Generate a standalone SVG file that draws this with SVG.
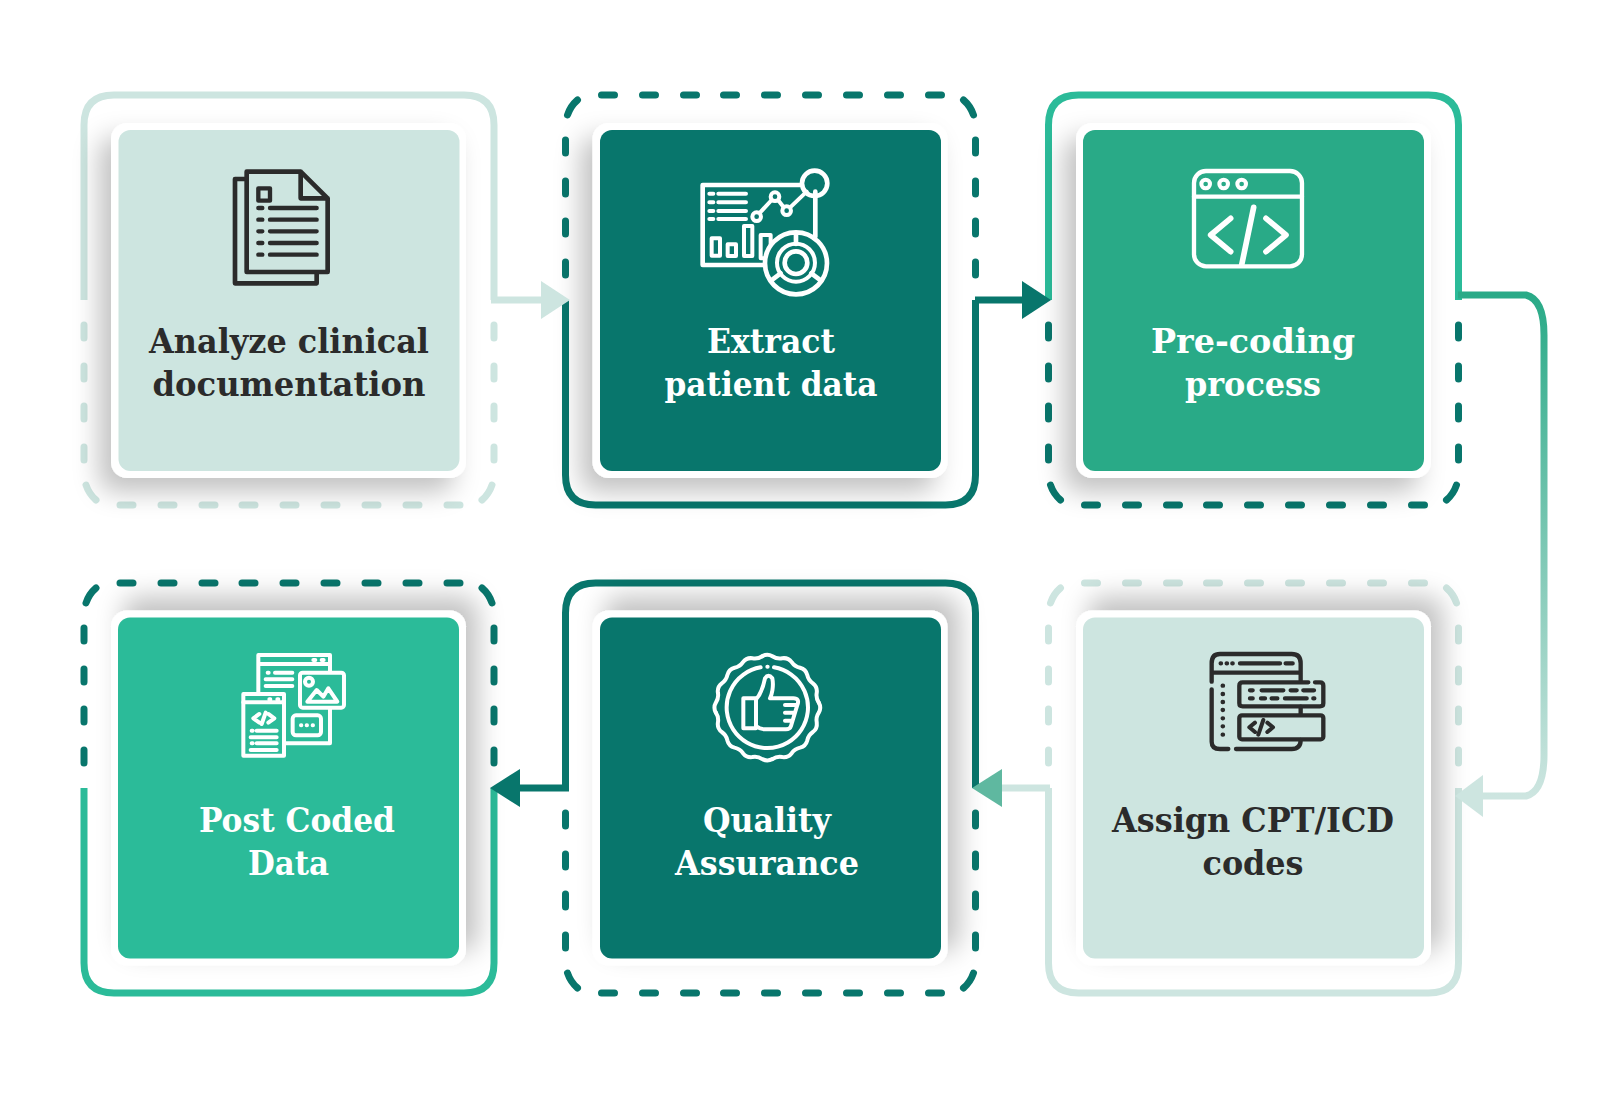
<svg xmlns="http://www.w3.org/2000/svg" width="1624" height="1108" viewBox="0 0 1624 1108">
<style>
.o{fill:none;stroke-width:7;stroke-linecap:butt}
.d{fill:none;stroke-width:7;stroke-linecap:round}
.L{stroke:#cde5e0}.K{stroke:#08766c}.G{stroke:#2bbb99}
.t{font-family:"DejaVu Serif","Liberation Serif",serif;font-weight:700;font-stretch:condensed;font-size:33px;text-anchor:middle}
.tD{fill:#2b2b2b}.tW{fill:#fff}
.i{fill:none;stroke-linecap:round;stroke-linejoin:round}
.iW{stroke:#fff}.iD{stroke:#2b2b2b}
.c{fill:none;stroke-width:7}
</style>
<defs>
<filter id="sA" x="-20%" y="-20%" width="140%" height="140%"><feDropShadow dx="-12" dy="14" stdDeviation="13" flood-color="#000" flood-opacity=".24"/></filter>
<filter id="sB" x="-20%" y="-20%" width="140%" height="140%"><feDropShadow dx="12" dy="-14" stdDeviation="13" flood-color="#000" flood-opacity=".24"/></filter>
<linearGradient id="gr" gradientUnits="userSpaceOnUse" x1="0" y1="295" x2="0" y2="796"><stop offset="0" stop-color="#29aa87"/><stop offset="1" stop-color="#cde5e0"/></linearGradient>
<path id="sU" d="M0 205V30Q0 0 30 0H380Q410 0 410 30V205"/>
<path id="sL" d="M0 205V380Q0 410 30 410H380Q410 410 410 380V205"/>
<path id="dL" d="M0 230v13M0 271v13M0 311v13M0 352v13M410 230v13M410 271v13M410 311v13M410 352v13M2 390Q5 399 12 405M408 390Q405 399 398 405M36 410h13M77 410h13M118 410h13M158 410h13M199 410h13M240 410h13M281 410h13M322 410h13M363 410h13"/>
<path id="dU" d="M0 167v13M0 126v13M0 86v13M0 45v13M410 167v13M410 126v13M410 86v13M410 45v13M2 20Q5 11 12 5M408 20Q405 11 398 5M36 0h13M77 0h13M118 0h13M158 0h13M199 0h13M240 0h13M281 0h13M322 0h13M363 0h13"/>
<path id="sc" d="M154.300 -15.200Q163 0 154.300 15.200Q145.200 28.900 148.300 45Q150.600 62.400 136.700 73.100Q123.100 82.200 119.800 98.300Q115.300 115.300 98.300 119.800Q82.200 123.100 73.100 136.700Q62.400 150.600 45 148.300Q28.900 145.200 15.200 154.300"/>
</defs>
<rect width="1624" height="1108" fill="#fff"/>

<g id="node-analyze">
<use href="#sU" class="o L" x="84" y="95"/><use href="#dL" class="d L" x="84" y="95"/>
<rect x="111" y="123" width="355" height="355" rx="16" fill="#fff" filter="url(#sA)"/>
<rect x="118.500" y="130" width="341" height="341" rx="12" fill="#cde5e0"/>
<g class="i iD" transform="translate(210 150) scale(.3333)" stroke-width="14">
<path d="M110 65H272L353 145V366H110ZM272 65V145H353M110 87H75V400H320V366"/>
<rect x="145" y="115" width="35" height="37" stroke-width="13"/>
<path stroke-width="13" d="M145 174h12M180 174H320M145 209h12M180 209H320M145 244h12M180 244H320M145 279h12M180 279H320M145 314h12M180 314H320"/>
</g>
<text class="t tD" x="289" y="353" textLength="280" lengthAdjust="spacingAndGlyphs">Analyze clinical</text>
<text class="t tD" x="289" y="396" textLength="273" lengthAdjust="spacingAndGlyphs">documentation</text>
</g>

<g id="node-extract">
<use href="#dU" class="d K" x="565.500" y="95"/><use href="#sL" class="o K" x="565.500" y="95"/>
<rect x="592.500" y="123" width="355" height="355" rx="16" fill="#fff" filter="url(#sA)"/>
<rect x="600" y="130" width="341" height="341" rx="12" fill="#08766c"/>
<g class="i iW" transform="translate(660 150) scale(.3333)" stroke-width="14">
<path d="M420 105H128V345H320M466 125V260"/>
<circle cx="464" cy="100" r="38"/>
<path stroke-width="12" d="M148 131h12M175 131H258M148 157h12M175 157H258M148 183h12M175 183H258M148 207h12M175 207H258"/>
<path stroke-width="12" d="M300 188L335 150M356 152L370 170M393 170L440 125"/>
<circle cx="290" cy="200" r="13" stroke-width="12"/><circle cx="345" cy="140" r="13" stroke-width="12"/><circle cx="380" cy="182" r="13" stroke-width="12"/>
<rect x="155" y="265" width="25" height="52" stroke-width="12"/><rect x="203" y="283" width="25" height="35" stroke-width="12"/><rect x="252" y="228" width="25" height="90" stroke-width="12"/><rect x="302" y="255" width="30" height="70" stroke-width="12"/>
<circle cx="408" cy="340" r="93" fill="#08766c"/>
<circle cx="408" cy="338" r="34"/><circle cx="408" cy="338" r="57" stroke-width="12"/>
<path d="M408 250V282M338 388L362 370M478 388L454 370"/>
</g>
<text class="t tW" x="771" y="353" textLength="128" lengthAdjust="spacingAndGlyphs">Extract</text>
<text class="t tW" x="771" y="396" textLength="213" lengthAdjust="spacingAndGlyphs">patient data</text>
</g>

<g id="node-precoding">
<use href="#sU" class="o G" x="1048.500" y="95"/><use href="#dL" class="d K" x="1048.500" y="95"/>
<rect x="1076" y="123" width="355" height="355" rx="16" fill="#fff" filter="url(#sA)"/>
<rect x="1083" y="130" width="341" height="341" rx="12" fill="#29aa87"/>
<g class="i iW" transform="translate(1160 150) scale(.3333)" stroke-width="13">
<rect x="102" y="63" width="324" height="286" rx="36"/>
<path d="M102 140H426"/>
<circle cx="137" cy="102" r="13" stroke-width="12"/><circle cx="191" cy="102" r="13" stroke-width="12"/><circle cx="245" cy="102" r="13" stroke-width="12"/>
<path stroke-width="17" d="M212 205L152 255L212 305M318 205L378 255L318 305M281 172L245 345"/>
</g>
<text class="t tW" x="1253" y="353" textLength="204" lengthAdjust="spacingAndGlyphs">Pre-coding</text>
<text class="t tW" x="1253" y="396" textLength="136" lengthAdjust="spacingAndGlyphs">process</text>
</g>

<g id="node-assign">
<use href="#dU" class="d L" x="1048.500" y="583"/><use href="#sL" class="o L" x="1048.500" y="583"/>
<rect x="1076" y="610.500" width="355" height="355" rx="16" fill="#fff" filter="url(#sB)"/>
<rect x="1083" y="617.500" width="341" height="341" rx="12" fill="#cde5e0"/>
<g class="i iD" transform="translate(1190 640) scale(.3333)" stroke-width="13">
<path d="M65 125V70Q65 42 90 42H305Q332 42 332 70V122M65 98H332M92 70h1M110 70h1M127 70h1M150 70H270M287 70H308M98 137h1M98 162h1M98 186h1M98 210h1M98 235h1M98 259h1M98 284h1M65 148V305Q65 327 90 327H115M138 327H305Q332 327 332 300M332 200V222"/>
<path d="M355 127H158Q148 127 148 137V190Q148 199 158 199H390Q400 199 400 190V137Q400 127 390 127H375M180 151h8M215 151H280M302 151H320M340 151H372M180 175h8M213 175H225M245 175H262M285 175H350M370 175h3"/>
<rect x="148" y="226" width="252" height="72" rx="8"/>
<path stroke-width="12" d="M195 248L178 262L195 276M232 248L249 262L232 276M220 240L205 284"/>
</g>
<text class="t tD" x="1253" y="832" textLength="282" lengthAdjust="spacingAndGlyphs">Assign CPT/ICD</text>
<text class="t tD" x="1253" y="875" textLength="101" lengthAdjust="spacingAndGlyphs">codes</text>
</g>

<g id="node-quality">
<use href="#sU" class="o K" x="565.500" y="583"/><use href="#dL" class="d K" x="565.500" y="583"/>
<rect x="592.500" y="610.500" width="355" height="355" rx="16" fill="#fff" filter="url(#sB)"/>
<rect x="600" y="617.500" width="341" height="341" rx="12" fill="#08766c"/>
<g class="i iW" transform="translate(690 640) scale(.3333)" stroke-width="12">
<g transform="translate(232 203)">
<use href="#sc"/><use href="#sc" transform="rotate(90)"/><use href="#sc" transform="rotate(180)"/><use href="#sc" transform="rotate(270)"/>
</g>
<path d="M252 82A122 122 0 1 1 212 82M232 80h1"/>
<rect x="160" y="175" width="38" height="90"/>
<path d="M198 178C215 160 222 130 225 115Q235 100 247 115C252 140 245 165 240 175H310Q330 175 322 195L303 258Q300 268 288 268H225Q210 268 198 258M318 195H285M312 218H285M305 242H285"/>
</g>
<text class="t tW" x="767" y="832" textLength="128" lengthAdjust="spacingAndGlyphs">Quality</text>
<text class="t tW" x="767" y="875" textLength="184" lengthAdjust="spacingAndGlyphs">Assurance</text>
</g>

<g id="node-postcoded">
<use href="#dU" class="d K" x="84" y="583"/><use href="#sL" class="o G" x="84" y="583"/>
<rect x="111" y="610.500" width="355" height="355" rx="16" fill="#fff" filter="url(#sB)"/>
<rect x="118" y="617.500" width="341" height="341" rx="12" fill="#2bbb99"/>
<g class="i iW" transform="translate(220 640) scale(.3333)" stroke-width="12">
<path d="M115 160V45H330V310H195M115 72H330M280 60h6M305 60h6M143 98h3M165 98H217M137 118H217M137 138H217"/>
<rect x="240" y="98" width="132" height="105" rx="8" fill="#2bbb99"/>
<circle cx="267" cy="125" r="12"/>
<path d="M262 185L290 150L310 170L325 145L352 185Z"/>
<rect x="218" y="226" width="85" height="60" rx="10" fill="#2bbb99"/>
<path d="M243 256h1M260 256h1M278 256h1"/>
<rect x="70" y="162" width="122" height="185" fill="#2bbb99"/>
<path d="M70 187H192M148 178h3M172 178h3M118 222L100 235L118 248M145 222L163 235L145 248M137 218L125 252M95 272h3M110 272H170M92 292H170M95 310h3M110 310H170M92 330H170"/>
</g>
<text class="t tW" x="297" y="832" textLength="196" lengthAdjust="spacingAndGlyphs">Post Coded</text>
<text class="t tW" x="288.500" y="875" textLength="81" lengthAdjust="spacingAndGlyphs">Data</text>
</g>

<g id="connectors">
<path class="c L" d="M491 300H545"/><polygon points="541,281 570,300 541,319" fill="#cde5e0"/>
<path class="c K" d="M975 300H1025"/><polygon points="1022,281 1051,300 1022,319" fill="#08766c"/>
<path class="c" stroke="url(#gr)" d="M1458 295H1526C1538 298 1544 312 1544 335V755C1544 780 1538 793 1526 796H1483"/>
<polygon points="1483,775 1455,796 1483,817" fill="#cde5e0"/>
<path class="c L" d="M1050 788H1000"/><polygon points="1002,769 972,788 1002,807" fill="#5fb8a0"/>
<path class="c K" d="M569 788H518"/><polygon points="520,769 490,788 520,807" fill="#08766c"/>
</g>
</svg>
